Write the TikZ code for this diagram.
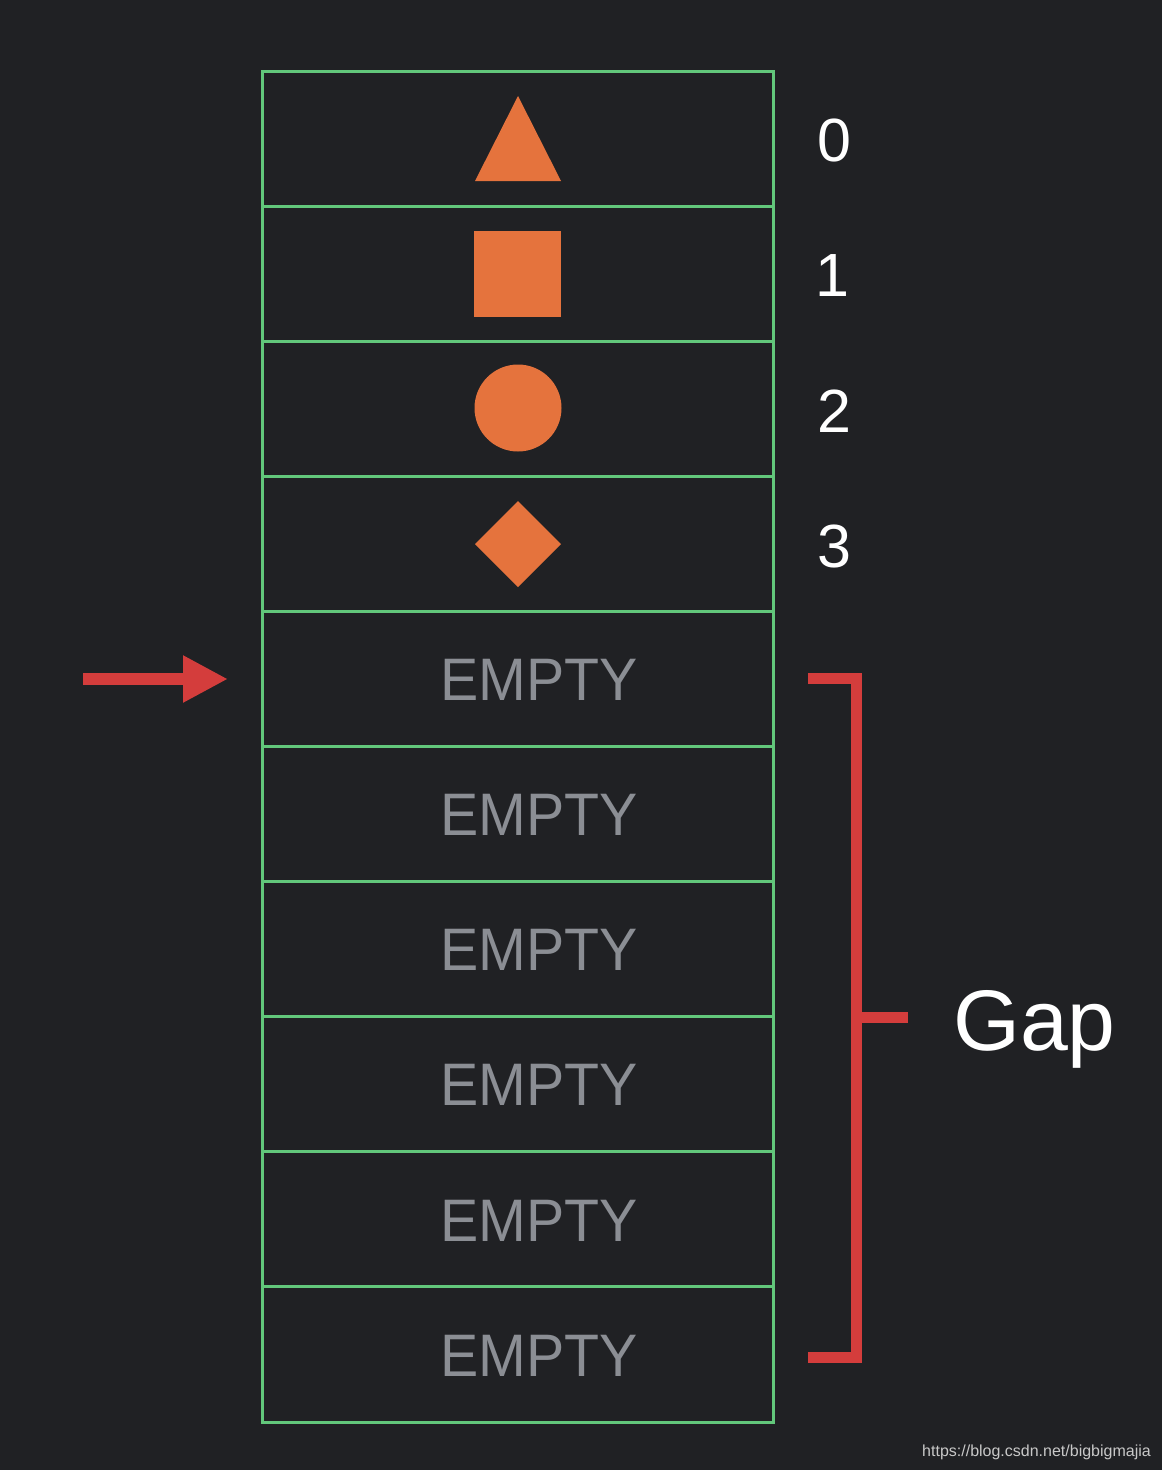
\documentclass[tikz,border=0pt]{standalone}
\usepackage{fontspec}
\usepackage{graphicx}
\setmainfont{Liberation Sans}
\usetikzlibrary{arrows.meta}
\definecolor{bgc}{HTML}{202124}
\definecolor{gridg}{HTML}{62C77B}
\definecolor{shapeor}{HTML}{E5733D}
\definecolor{markred}{HTML}{D43D3C}
\definecolor{emptyg}{HTML}{8B8E94}
\definecolor{wmark}{HTML}{C8C8C8}
\tikzset{
  cell/.style={draw=gridg, line width=3pt, minimum width=511pt, minimum height=135.1pt, inner sep=0pt, outer sep=0pt},
  emptytxt/.style={text=emptyg, font=\fontsize{60}{70}\selectfont, inner sep=0pt},
  idx/.style={text=white, font=\fontsize{61}{70}\selectfont, inner sep=0pt},
  redline/.style={draw=markred, line width=11pt, line cap=butt, line join=miter},
  orangefill/.style={fill=shapeor}
}
\begin{document}
\begin{tikzpicture}[x=1pt,y=-1pt]
\fill[bgc] (0,0) rectangle (1162,1470);
\useasboundingbox (0,0) rectangle (1162,1470);
% cells
\foreach \i in {0,...,9}{
  \node[cell] (c\i) at (517.5, {71+135.1*\i+67.55}) {};
}
% shapes
\fill[orangefill] (518,96) -- (561,181) -- (475,181) -- cycle;
\fill[orangefill] (474,231) rectangle (561,317);
\fill[orangefill] (518,408) circle (43.5);
\fill[orangefill] (518,501) -- (561,544) -- (518,587) -- (475,544) -- cycle;
% indices
\node[idx] (n0) at (834,140) {0};
\node[idx] (n1) at (832,276) {1};
\node[idx] (n2) at (834,411) {2};
\node[idx] (n3) at (834,546) {3};
% EMPTY labels
\foreach \i in {4,...,9}{
  \node[emptytxt] (e\i) at (539, {71+135.1*\i+67.55+1}) {\scalebox{0.955}[1]{EMPTY}};
}
% arrow
\coordinate (a0) at (83,679);
\coordinate (a1) at (228,679);
\draw[markred, line width=12pt, -{Triangle[length=45pt,width=44pt]}] (a0) -- (a1);
% bracket
\coordinate (b0) at (808,678);
\coordinate (b1) at (856,678);
\coordinate (b2) at (856,1357);
\coordinate (b3) at (808,1357);
\coordinate (bm) at (856,1017);
\coordinate (bt) at (908,1017);
\draw[redline] (b0) -- (b1) -- (b2) -- (b3);
\draw[redline] (bm) -- (bt);
\node[text=white, font=\fontsize{86}{100}\selectfont, inner sep=0pt, anchor=base west] (gap) at (953,1050) {Gap};
\node[text=wmark, font=\fontsize{16}{18}\selectfont, inner sep=0pt, anchor=base east] (wm) at (1151,1456) {https://blog.csdn.net/bigbigmajia};
\end{tikzpicture}
\end{document}
